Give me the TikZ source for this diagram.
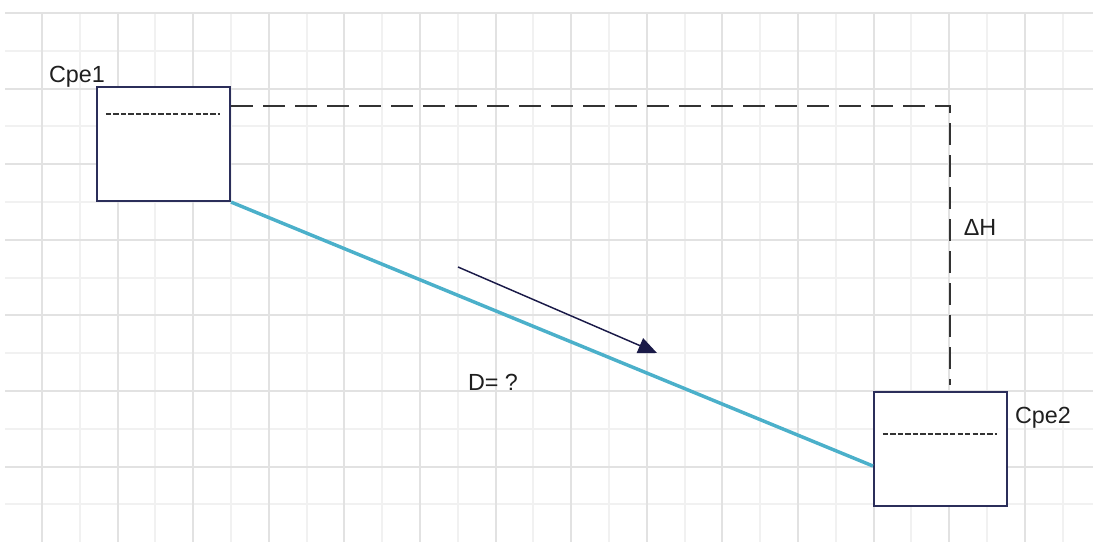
\documentclass[tikz,border=0pt]{standalone}
\usepackage{fontspec}
\setmainfont{Liberation Sans}
\usepackage{tikz}
\usetikzlibrary{arrows.meta,positioning}
\usepackage{xcolor}

\definecolor{gridmajor}{RGB}{226,226,226}
\definecolor{gridminor}{RGB}{241,241,241}
\definecolor{tankline}{RGB}{43,46,90}
\definecolor{pipeblue}{RGB}{75,176,202}
\definecolor{flownavy}{RGB}{26,26,72}
\definecolor{levelgray}{RGB}{51,51,51}

\begin{document}
\begin{tikzpicture}[
  x=0.75pt, y=-0.75pt,
  tank/.style={rectangle, draw=tankline, line width=1.6pt, fill=white,
               minimum width=99.75pt, minimum height=85.5pt, inner sep=0pt},
  lbl/.style={anchor=base, inner sep=0pt, font=\fontsize{17.5}{21}\selectfont,
              text=black!88},
  pipe/.style={draw=pipeblue, line width=2.6pt},
  levelline/.style={draw=levelgray, line width=1.4pt,
                    dash pattern=on 16.5pt off 7.5pt},
  waterline/.style={draw=levelgray, line width=0.9pt,
                    dash pattern=on 4pt off 1.6pt},
  flow/.style={draw=flownavy, line width=1.1pt,
               -{Triangle[length=14pt,width=12pt]}}
]
\useasboundingbox (0,0) rectangle (1093,542);

% grid
\foreach \gx in {79.8,155.4,...,1093}
  \draw[gridminor, line width=1.4pt] (\gx,13) -- (\gx,542);
\foreach \gy in {50.8,126.4,...,542}
  \draw[gridminor, line width=1.4pt] (5,\gy) -- (1093,\gy);
\foreach \gx in {42,117.6,...,1093}
  \draw[gridmajor, line width=1.6pt] (\gx,13) -- (\gx,542);
\foreach \gy in {13,88.6,...,542}
  \draw[gridmajor, line width=1.6pt] (5,\gy) -- (1093,\gy);

% tanks
\node[tank] (cpe1) at (163.5,144) {};
\node[tank] (cpe2) at (940.5,449) {};

\draw[waterline] ([xshift=7.5pt,yshift=-21pt]cpe1.north west)
  -- ([xshift=-8pt,yshift=-21pt]cpe1.north east);
\draw[waterline] ([xshift=7.5pt,yshift=-32.25pt]cpe2.north west)
  -- ([xshift=-8pt,yshift=-32.25pt]cpe2.north east);

\node[lbl] (cpe1lbl) at (77,83) {Cpe1};
\node[lbl] (cpe2lbl) at (1043,423) {Cpe2};

% level difference
\coordinate (lvlcorner) at (950,106);
\coordinate (lvlend) at (950,385);
\draw[levelline] (cpe1.east |- lvlcorner) -- (lvlcorner) -- (lvlend);
\node[lbl] (dh) at (980,235) {ΔH};

% pipe and flow
\coordinate (pipeend) at (874,466);
\draw[pipe] (cpe1.south east) -- (cpe2.west |- pipeend);

\coordinate (flowstart) at (458,267);
\coordinate (flowend) at (657,353);
\draw[flow] (flowstart) -- (flowend);
\node[lbl] (dia) at (493,390) {D= ?};

\end{tikzpicture}
\end{document}
